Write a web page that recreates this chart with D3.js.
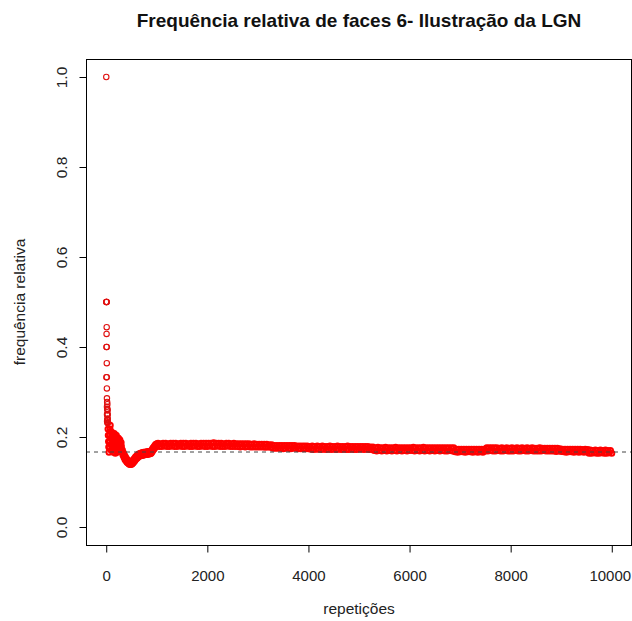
<!DOCTYPE html>
<html>
<head>
<meta charset="utf-8">
<script src="https://cdn.jsdelivr.net/npm/d3@7"></script>
<style>
  body { margin: 0; background: #fff; }
  text { font-family: "Liberation Sans", Arial, sans-serif; }
</style>
</head>
<body>
<div id="chart"></div>
<script>
// Primeiras repetições (pontos isolados), n = 1..29
const freqInicial = [1, 0.5, 0.333, 0.5, 0.4, 0.5, 0.429, 0.5, 0.444, 0.4, 0.364, 0.333, 0.308, 0.286,
  0.267, 0.25, 0.235, 0.278, 0.263, 0.25, 0.238, 0.273, 0.261, 0.25, 0.24, 0.231, 0.259, 0.25, 0.241]

// n = 30..295, de 5 em 5 (o "bolo" do comeco, oscila muito)
const freqFaixa = [
  .232, .218, .204, .19, .178, .166, .178, .19, .204, .218, .226, .212, .198, .184, .17,
  .18, .192, .204, .21, .198, .186, .174, .166, .178, .19, .202, .208, .196, .184, .172, .164,
  .176, .188, .2, .204, .192, .18, .17, .166,
  .176, .186, .196, .198, .188, .178, .17, .18, .19, .194, .184, .175, .172, .182, .188
]

// n = 300..1000, de 10 em 10 (o vale), lido borda de cima / de baixo
const freqVale = [
  .179, .168, .171, .160, .165, .155, .160, .150, .156, .147, .152, .144, .149, .142, .147, .140, .145, .139,
  .144, .139, .145, .140, .147, .142, .150, .145, .153, .148, .156, .151, .158, .153, .160, .155, .162, .157,
  .163, .158, .164, .159, .165, .159, .165, .160, .166, .160, .166, .161, .166, .161, .167, .161, .167, .162,
  .168, .162, .168, .163, .169, .164, .171, .167, .175, .171, .178, .174, .181, .177, .184, .179, .185
]

// n = 1025..10000, de 25 em 25 (faixa vermelha), lido borda de cima / de baixo
const freqPlato = [
  // 1025-2000
  .186,.179,.185,.179,.186,.180,.186,.179,.185,.179,.186,.180,.186,.179,.186,.179,.185,.180,.186,.179,
  .186,.179,.186,.180,.185,.179,.186,.179,.186,.180,.186,.179,.185,.179,.186,.180,.186,.179,.186,.179,
  // 2025-3000
  .186,.180,.186,.179,.187,.179,.186,.180,.186,.179,.186,.179,.185,.179,.186,.180,.186,.179,.185,.179,
  .186,.179,.185,.179,.185,.178,.185,.179,.185,.178,.185,.179,.185,.178,.184,.178,.185,.178,.184,.178,
  // 3025-4000
  .184,.178,.184,.178,.184,.177,.184,.178,.183,.177,.183,.175,.181,.175,.181,.175,.181,.175,.181,.174,
  .181,.175,.181,.175,.181,.174,.181,.175,.181,.175,.180,.174,.180,.174,.180,.174,.180,.174,.180,.174,
  // 4025-5000
  .179,.173,.180,.172,.179,.173,.180,.173,.179,.172,.180,.173,.179,.172,.179,.173,.180,.172,.179,.173,
  .179,.172,.180,.173,.179,.172,.179,.173,.179,.172,.180,.172,.179,.173,.179,.172,.179,.172,.179,.173,
  // 5025-6000
  .179,.173,.179,.172,.179,.173,.179,.172,.178,.172,.178,.170,.176,.169,.177,.170,.176,.169,.176,.170,
  .177,.169,.176,.170,.176,.169,.176,.170,.177,.169,.176,.170,.176,.169,.176,.170,.176,.169,.176,.170,
  // 6025-7000
  .176,.170,.177,.169,.176,.170,.176,.169,.176,.170,.177,.169,.176,.170,.176,.169,.176,.170,.176,.169,
  .176,.170,.176,.169,.176,.170,.176,.169,.176,.169,.176,.170,.176,.169,.176,.167,.173,.166,.173,.167,
  // 7025-8000
  .173,.167,.173,.166,.173,.167,.173,.167,.173,.166,.173,.167,.173,.166,.173,.167,.173,.166,.173,.169,
  .176,.169,.176,.170,.176,.169,.176,.169,.176,.170,.175,.169,.176,.169,.175,.170,.176,.169,.175,.169,
  // 8025-9000
  .176,.169,.175,.170,.176,.169,.175,.169,.176,.170,.175,.169,.176,.169,.175,.170,.176,.169,.175,.169,
  .175,.169,.176,.169,.175,.170,.175,.169,.175,.169,.175,.169,.175,.169,.175,.168,.175,.169,.174,.168,
  // 9025-10000
  .173,.167,.173,.166,.173,.167,.173,.167,.173,.166,.173,.167,.173,.166,.173,.167,.172,.166,.173,.167,
  .172,.164,.171,.164,.170,.165,.171,.164,.170,.164,.171,.165,.170,.164,.171,.164,.170,.165,.170,.164
]

// repetições de cada trecho
const repInicial = freqInicial.map((_, i) => 1 + i)
const repFaixa = freqFaixa.map((_, i) => 30 + 5 * i)
const repVale = freqVale.map((_, i) => 300 + 10 * i)
const repPlato = freqPlato.map((_, i) => 1025 + 25 * i)

const xTicks = [0, 2000, 4000, 6000, 8000, 10000]
const yTicks = [0, 0.2, 0.4, 0.6, 0.8, 1.0]
const probTeorica = 1 / 6

const titulo = "Frequência relativa de faces 6- Ilustração da LGN"
const rotuloX = "repetições"
const rotuloY = "frequência relativa"

// junta em pares (n, freq); "denso" = trecho onde os 10000 circulos do R viram faixa solida
const isolados = []
const densos = []
const juntar = (lista, reps, freqs) => reps.forEach((n, i) => lista.push({ n: n, f: freqs[i] }))
juntar(isolados, repInicial, freqInicial)
juntar(densos, repFaixa, freqFaixa)
juntar(densos, repVale, freqVale)
juntar(densos, repPlato, freqPlato)

const width = 632
const height = 621
const mEsq = 86, mDir = 632, mTopo = 59, mBase = 545

const x = d3.scaleLinear().domain([-400, 10400]).range([mEsq, mDir])
const y = d3.scaleLinear().domain([-0.04, 1.04]).range([mBase, mTopo])

const svg = d3.select("#chart").append("svg")
  .attr("width", width)
  .attr("height", height)

// pontos
svg.append("g")
  .attr("fill", "none")
  .attr("stroke", "#f00")
  .attr("stroke-width", 2)
  .selectAll("circle")
  .data(densos)
  .join("circle")
  .attr("cx", d => x(d.n))
  .attr("cy", d => y(d.f))
  .attr("r", 2.5)

svg.append("g")
  .attr("fill", "none")
  .attr("stroke", "#e01010")
  .attr("stroke-width", 1.1)
  .selectAll("circle")
  .data(isolados)
  .join("circle")
  .attr("cx", d => x(d.n))
  .attr("cy", d => y(d.f))
  .attr("r", 2.7)

// linha de 1/6
svg.append("line")
  .attr("x1", mEsq).attr("x2", mDir)
  .attr("y1", y(probTeorica)).attr("y2", y(probTeorica))
  .attr("stroke", "#444")
  .attr("stroke-dasharray", "4,4")

// caixa
svg.append("rect")
  .attr("x", mEsq + 0.5).attr("y", mTopo + 0.5)
  .attr("width", mDir - mEsq - 1).attr("height", mBase - mTopo)
  .attr("fill", "none")
  .attr("stroke", "#000")

// eixos
const eixoX = svg.append("g")
  .attr("transform", `translate(0,${mBase + 0.5})`)
  .call(d3.axisBottom(x).tickValues(xTicks).tickSize(7).tickFormat(d3.format("d")))
eixoX.select(".domain").remove()
eixoX.selectAll("text")
  .attr("y", 35).attr("dy", 0)
  .attr("x", d => d === 10000 ? -2 : 0)
  .attr("font-size", 15).attr("fill", "#222")
  .style("font-family", "Liberation Sans, Arial, sans-serif")

const eixoY = svg.append("g")
  .attr("transform", `translate(${mEsq + 0.5},0)`)
  .call(d3.axisLeft(y).tickValues(yTicks).tickSize(7).tickFormat(d3.format(".1f")))
eixoY.select(".domain").remove()
eixoY.selectAll("text")
  .attr("x", 0).attr("dy", 0)
  .attr("text-anchor", "middle")
  .attr("transform", "translate(-20,0) rotate(-90)")
  .attr("font-size", 15.5).attr("fill", "#222")
  .style("font-family", "Liberation Sans, Arial, sans-serif")

// textos
svg.append("text")
  .attr("x", (mEsq + mDir) / 2).attr("y", 27)
  .attr("text-anchor", "middle")
  .attr("font-size", 19).attr("font-weight", "bold")
  .attr("fill", "#111")
  .text(titulo)

svg.append("text")
  .attr("x", (mEsq + mDir) / 2).attr("y", 614)
  .attr("text-anchor", "middle")
  .attr("font-size", 15.5).attr("fill", "#222")
  .text(rotuloX)

svg.append("text")
  .attr("transform", `translate(25,${(mTopo + mBase) / 2}) rotate(-90)`)
  .attr("text-anchor", "middle")
  .attr("font-size", 15.5).attr("fill", "#222")
  .text(rotuloY)
</script>
</body>
</html>
